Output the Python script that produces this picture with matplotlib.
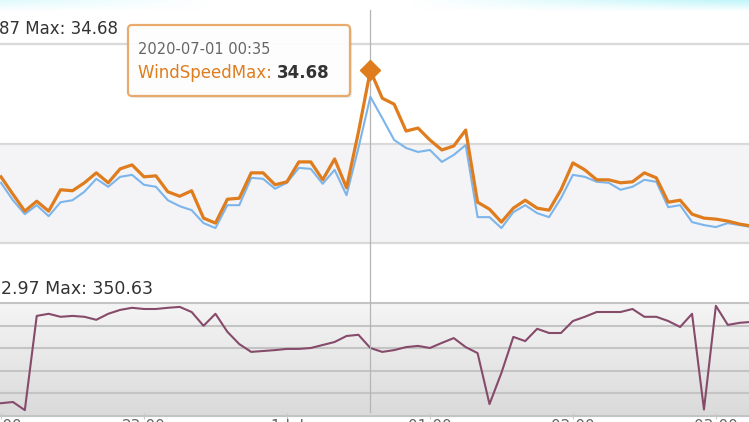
import matplotlib
matplotlib.use("Agg")
import matplotlib.pyplot as plt
from matplotlib.colors import LinearSegmentedColormap
from matplotlib.patches import FancyBboxPatch
import numpy as np
import pandas as pd

W, H = 749, 422

# 5-minute samples, 2020-06-30 22:00 -> 2020-07-01 03:15
times = pd.date_range("2020-06-30 22:00", periods=64, freq="5min")

wind_max = [13.3, 9.8, 6.4, 8.4, 6.4, 10.7, 10.5, 12.1, 14.1, 12.1,
            14.9, 15.7, 13.3, 13.5, 10.3, 9.4, 10.5, 5.0, 4.0, 8.8,
            9.0, 14.1, 14.1, 11.7, 12.3, 16.3, 16.3, 12.7, 16.9, 11.1,
            22.3, 34.68, 29.1, 27.9, 22.5, 23.1, 20.7, 18.7, 19.5, 22.7,
            8.2, 6.8, 4.2, 7.0, 8.6, 7.0, 6.6, 10.7, 16.1, 14.7,
            12.7, 12.7, 12.1, 12.3, 14.1, 13.1, 8.2, 8.6, 5.8, 5.0,
            4.8, 4.4, 3.8, 3.4]

wind_avg = [12.1, 8.6, 5.8, 7.6, 5.4, 8.2, 8.6, 10.3, 12.9, 11.3,
            13.3, 13.7, 11.7, 11.3, 8.6, 7.4, 6.6, 4.0, 3.0, 7.6,
            7.6, 13.1, 12.9, 10.9, 12.1, 15.1, 14.9, 11.9, 14.7, 9.6,
            19.1, 29.4, 25.1, 20.7, 19.1, 18.3, 18.7, 16.3, 17.7, 19.7,
            5.2, 5.2, 3.0, 6.2, 7.6, 6.0, 5.2, 9.0, 13.7, 13.3,
            12.3, 12.1, 10.7, 11.3, 12.7, 12.3, 7.2, 7.6, 4.2, 3.6,
            3.2, 4.0, 3.6, 3.2]

wind_dir = [26, 30, 2.97, 317, 324, 314, 317, 314, 304, 324,
            337, 344, 340, 340, 344, 347, 330, 284, 324, 264,
            223, 197, 200, 203, 207, 207, 210, 220, 230, 250,
            254, 210, 197, 203, 213, 217, 210, 227, 243, 213,
            193, 23, 127, 247, 233, 274, 260, 260, 300, 314,
            330, 330, 330, 340, 314, 314, 300, 280, 324, 5,
            350.63, 287, 294, 297]

tick_times = pd.to_datetime(["2020-06-30 22:00", "2020-06-30 23:00", "2020-07-01 00:00",
                             "2020-07-01 01:00", "2020-07-01 02:00", "2020-07-01 03:00"])
tick_labels = ["22:00", "23:00", "1 Jul", "01:00", "02:00", "03:00"]

peak_idx = 31
x_left = pd.Timestamp("2020-06-30 21:59:35")
x_right = pd.Timestamp("2020-07-01 03:13:54")

orange = "#df7c1d"
blue = "#7cb5ec"
purple = "#864a6b"


def rect(x0, y0, x1, y1):
    # pixel box (top-left origin) -> figure fraction
    return [x0 / W, 1 - y1 / H, (x1 - x0) / W, (y1 - y0) / H]


fig = plt.figure(figsize=(W / 100, H / 100), dpi=100)
fig.patch.set_facecolor("white")

# bottom panel: wind direction
ax_b = fig.add_axes(rect(0, 303, W, 415.5))
ax_b.set_zorder(1)
cmap = LinearSegmentedColormap.from_list("bg", ["#f5f5f5", "#dadada"])
ax_b.imshow(np.linspace(0, 1, 100)[:, None], cmap=cmap, aspect="auto",
            extent=(0, 1, 0, 1), transform=ax_b.transAxes, zorder=0)
for g in (-15, 60, 135, 210, 285, 360):
    ax_b.axhline(g, color="#c4c4c4", lw=1.5, zorder=1, clip_on=False)
ax_b.plot(times, wind_dir, color=purple, lw=1.5, zorder=3)
ax_b.set_xlim(x_left, x_right)
ax_b.set_ylim(-15, 360)
ax_b.set_yticks([])
ax_b.set_xticks(tick_times)
ax_b.set_xticklabels(tick_labels)
ax_b.tick_params(axis="x", direction="inout", length=5, color="#c8c8c8",
                 labelcolor="#666666", labelsize=11, pad=0)
for s in ax_b.spines.values():
    s.set_visible(False)

# top panel: wind speed
ax_t = fig.add_axes(rect(0, 44, W, 243))
ax_t.set_zorder(2)
ax_t.patch.set_alpha(0)
ax_t.axhspan(0, 20, color="#f4f4f6", zorder=0)
for g in (0, 20, 40):
    ax_t.axhline(g, color="#d9d9d9", lw=1.6, zorder=1, clip_on=False)
ax_t.axvline(times[peak_idx], ymin=(243 - 412) / 199, ymax=(243 - 10) / 199,
             color="#b5b5b5", lw=0.9, zorder=1, clip_on=False)
ax_t.plot(times, wind_avg, color=blue, lw=1.5, zorder=3)
ax_t.plot(times, wind_max, color=orange, lw=2.3, zorder=4)
ax_t.plot(times[peak_idx], wind_max[peak_idx], marker="D", ms=10,
          color=orange, zorder=5, clip_on=False)
ax_t.set_xlim(x_left, x_right)
ax_t.set_ylim(0, 40)
ax_t.set_xticks([])
ax_t.set_yticks([])
for s in ax_t.spines.values():
    s.set_visible(False)

# overlay in pixel coordinates for labels and tooltip
ax_o = fig.add_axes([0, 0, 1, 1])
ax_o.set_zorder(5)
ax_o.patch.set_alpha(0)

# faint cyan strip at the very top of the screenshot
grad = np.zeros((12, W, 4))
xs = np.linspace(0, 1, W)
strip_alpha = np.clip(np.maximum(0.45 - xs * 1.6, (xs - 0.55) * 2.0), 0, 0.85)
ys = np.linspace(1, 0, 12)[:, None]
grad[..., 0] = 0.72
grad[..., 1] = 0.96
grad[..., 2] = 0.98
grad[..., 3] = strip_alpha[None, :] * ys
ax_o.imshow(grad, extent=(0, W, 12, 0), aspect="auto", zorder=0)
ax_o.set_xlim(0, W)
ax_o.set_ylim(H, 0)
ax_o.axis("off")

ax_o.text(-1, 29, "87 Max: 34.68", fontsize=12, color="#333333", va="center", ha="left")
ax_o.text(1, 289, "2.97 Max: 350.63", fontsize=12.5, color="#333333", va="center", ha="left")

# tooltip
shadow = FancyBboxPatch((130, 27), 222, 71, boxstyle="round,pad=0,rounding_size=4",
                        fc="#000000", ec="none", alpha=0.08, zorder=2)
ax_o.add_patch(shadow)
box = FancyBboxPatch((128, 25), 222, 71, boxstyle="round,pad=0,rounding_size=4",
                     fc="white", ec="#e8a665", lw=1.6, alpha=0.95, zorder=3)
ax_o.add_patch(box)
ax_o.text(138, 49, "2020-07-01 00:35", fontsize=10.5, color="#666666",
          va="center", ha="left", zorder=4)
name = ax_o.text(138, 73, "WindSpeedMax: ", fontsize=12, color=orange,
                 va="center", ha="left", zorder=4)
ax_o.annotate("34.68", xy=(1, 0.5), xycoords=name, va="center", ha="left",
              fontsize=12, fontweight="bold", color="#333333", zorder=4)

fig.savefig("out.png", dpi=100)
